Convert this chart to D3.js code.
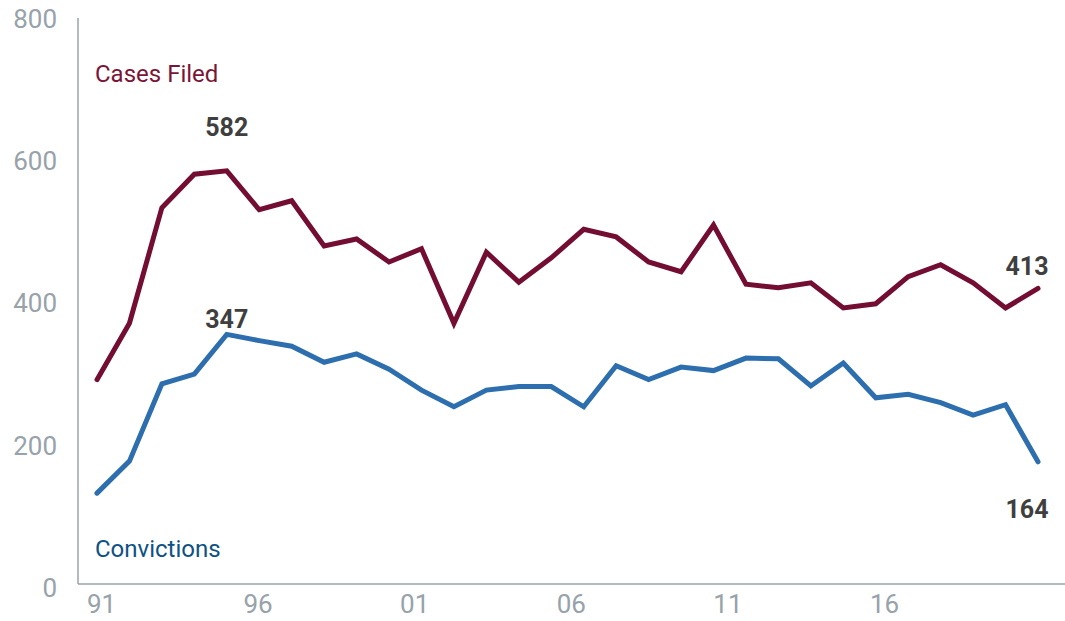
<!DOCTYPE html>
<html>
<head>
<meta charset="utf-8">
<script src="https://cdn.jsdelivr.net/npm/d3@7"></script>
<style>
  body { margin: 0; background: #fff; }
  text { font-family: Roboto, "Noto Sans", sans-serif; }
</style>
</head>
<body>
<div id="chart"></div>
<script>
// data
const years = d3.range(1991, 2021);
const casesFiled = [282, 363, 529, 577, 582, 526, 539, 474, 484, 451,
  470, 363, 465, 422, 457, 498, 487, 451, 437, 504,
  419, 414, 421, 385, 391, 430, 447, 421, 385, 413];
const convictions = [119, 165, 276, 290, 347, 338, 330, 307, 319, 297,
  267, 243, 267, 272, 272, 243, 302, 282, 300, 295,
  313, 312, 273, 306, 256, 261, 249, 231, 246, 164];
const yTicks = [0, 200, 400, 600, 800];
const xTickYears = [1991, 1996, 2001, 2006, 2011, 2016];
const callouts = [
  { year: 1995, value: 582, dx: 0, dy: -35 },
  { year: 1995, value: 347, dx: 0, dy: -6 },
  { year: 2020, value: 413, dx: -11, dy: -13 },
  { year: 2020, value: 164, dx: -11, dy: 56 }
];

const width = 1065, height = 621;
const svg = d3.select("#chart").append("svg")
  .attr("width", width).attr("height", height);

// scales
const x = d3.scaleLinear().domain([1991, 2020]).range([97, 1038]);
const y = d3.scaleLinear().domain([0, 800]).range([576, 19]);
// tick labels sit on a slightly different grid in the original
const xLab = d3.scaleLinear().domain([1991, 2016]).range([101, 884]);
const yLab = d3.scaleLinear().domain([0, 800]).range([588, 19]);

const axisColor = "#9aa4ab";

// axis lines
svg.append("line")
  .attr("x1", 78).attr("x2", 78).attr("y1", 18).attr("y2", 584)
  .attr("stroke", axisColor).attr("stroke-width", 1.5);
svg.append("line")
  .attr("x1", 78).attr("x2", width).attr("y1", 584).attr("y2", 584)
  .attr("stroke", axisColor).attr("stroke-width", 1.5);

// y tick labels
const yAxis = svg.append("g")
  .attr("transform", "translate(57,0)")
  .call(d3.axisLeft(yLab).tickValues(yTicks).tickSize(0).tickPadding(0));
yAxis.select(".domain").remove();
yAxis.selectAll("text")
  .attr("fill", "#97a2aa")
  .style("font-size", "26px")
  .style("font-family", "Roboto, sans-serif");

// x tick labels
const xAxis = svg.append("g")
  .attr("transform", "translate(0,595)")
  .call(d3.axisBottom(xLab).tickValues(xTickYears).tickSize(0).tickPadding(0)
    .tickFormat(d => String(d).slice(2)));
xAxis.select(".domain").remove();
xAxis.selectAll("text")
  .attr("fill", "#97a2aa")
  .style("font-size", "26px")
  .style("font-family", "Roboto, sans-serif");

// lines
const line = d3.line()
  .x((d, i) => x(years[i]))
  .y(d => y(d));

svg.append("path")
  .datum(casesFiled)
  .attr("fill", "none")
  .attr("stroke", "#730d31")
  .attr("stroke-width", 5)
  .attr("stroke-linejoin", "miter")
  .attr("stroke-linecap", "round")
  .attr("d", line);

svg.append("path")
  .datum(convictions)
  .attr("fill", "none")
  .attr("stroke", "#2d6eae")
  .attr("stroke-width", 5)
  .attr("stroke-linejoin", "miter")
  .attr("stroke-linecap", "round")
  .attr("d", line);

// series labels
svg.append("text")
  .attr("x", 95).attr("y", 82)
  .attr("fill", "#7a1538")
  .style("font-size", "24px")
  .text("Cases Filed");

svg.append("text")
  .attr("x", 95).attr("y", 557)
  .attr("fill", "#0e5184")
  .style("font-size", "24px")
  .text("Convictions");

// value call-outs
svg.selectAll(".callout")
  .data(callouts)
  .enter()
  .append("text")
  .attr("class", "callout")
  .attr("x", d => x(d.year) + d.dx)
  .attr("y", d => y(d.value) + d.dy)
  .attr("text-anchor", "middle")
  .attr("fill", "#3f3f3f")
  .style("font-size", "25px")
  .style("font-weight", "bold")
  .text(d => d.value);
</script>
</body>
</html>
